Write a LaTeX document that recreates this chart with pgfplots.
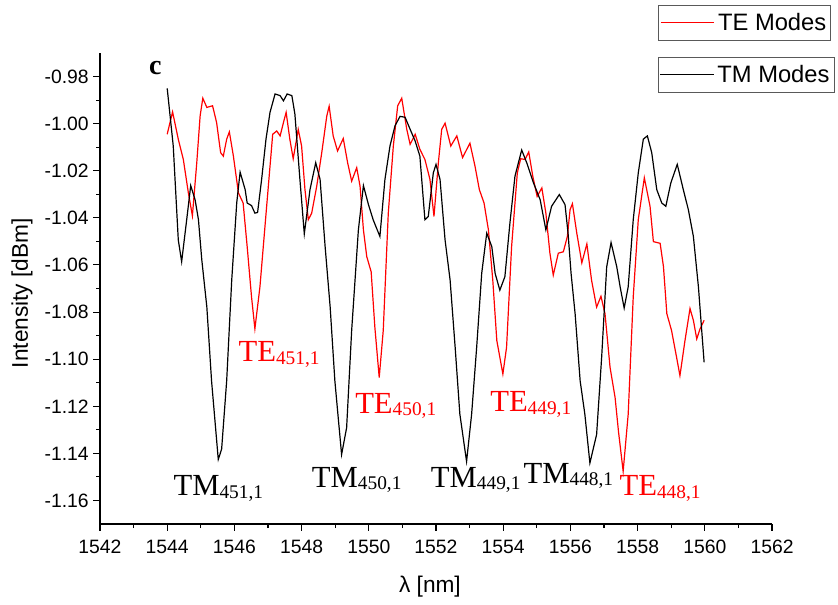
\documentclass[border=0pt]{standalone}
\usepackage{pgfplots}
\usepackage{pgfplotstable}
\pgfplotsset{compat=1.18}
\usepackage{fontspec}
\setmainfont{Liberation Sans}
\newfontfamily\serifont{Liberation Serif}

\pgfplotstableread{
x y
1544.00 -1.0045
1544.16 -0.9950
1544.33 -1.0066
1544.48 -1.0152
1544.63 -1.0294
1544.75 -1.0391
1544.88 -1.0166
1544.98 -0.9967
1545.06 -0.9892
1545.18 -0.9931
1545.35 -0.9924
1545.47 -0.9995
1545.59 -1.0123
1545.67 -1.0138
1545.77 -1.0066
1545.85 -1.0035
1545.97 -1.0138
1546.12 -1.0294
1546.26 -1.0337
1546.38 -1.0522
1546.51 -1.0736
1546.61 -1.0871
1546.76 -1.0693
1546.96 -1.0351
1547.14 -1.0045
1547.26 -1.0031
1547.36 -1.0052
1547.46 -0.9995
1547.54 -0.9952
1547.65 -1.0066
1547.75 -1.0149
1547.90 -1.0024
1548.00 -1.0095
1548.10 -1.0280
1548.20 -1.0408
1548.30 -1.0380
1548.45 -1.0266
1548.60 -1.0123
1548.75 -0.9967
1548.82 -0.9926
1548.94 -1.0052
1549.07 -1.0116
1549.24 -1.0063
1549.37 -1.0166
1549.49 -1.0244
1549.64 -1.0187
1549.74 -1.0266
1549.84 -1.0451
1549.94 -1.0565
1550.07 -1.0629
1550.18 -1.0864
1550.31 -1.1078
1550.43 -1.0878
1550.58 -1.0380
1550.73 -1.0095
1550.86 -0.9924
1550.98 -0.9892
1551.13 -1.0024
1551.23 -1.0088
1551.38 -1.0045
1551.52 -1.0109
1551.67 -1.0152
1551.82 -1.0237
1551.94 -1.0394
1552.07 -1.0166
1552.17 -1.0024
1552.27 -0.9998
1552.44 -1.0095
1552.62 -1.0052
1552.79 -1.0144
1553.01 -1.0083
1553.16 -1.0180
1553.29 -1.0280
1553.43 -1.0337
1553.56 -1.0451
1553.69 -1.0665
1553.81 -1.0921
1553.99 -1.1063
1554.10 -1.0950
1554.25 -1.0522
1554.42 -1.0209
1554.52 -1.0149
1554.65 -1.0152
1554.76 -1.0120
1554.88 -1.0223
1555.01 -1.0309
1555.15 -1.0273
1555.27 -1.0380
1555.39 -1.0550
1555.49 -1.0643
1555.64 -1.0550
1555.79 -1.0544
1555.91 -1.0479
1555.99 -1.0365
1556.06 -1.0340
1556.19 -1.0465
1556.34 -1.0591
1556.49 -1.0511
1556.63 -1.0665
1556.78 -1.0779
1556.91 -1.0733
1557.03 -1.0807
1557.18 -1.1035
1557.33 -1.1163
1557.43 -1.1306
1557.57 -1.1476
1557.72 -1.1234
1557.87 -1.0736
1558.02 -1.0408
1558.20 -1.0230
1558.37 -1.0351
1558.47 -1.0501
1558.67 -1.0508
1558.77 -1.0608
1558.87 -1.0807
1559.01 -1.0878
1559.16 -1.0992
1559.26 -1.1070
1559.41 -1.0921
1559.56 -1.0785
1559.66 -1.0835
1559.76 -1.0914
1559.86 -1.0871
1559.98 -1.0835
}\tedata

\pgfplotstableread{
x y
1544.00 -0.9850
1544.18 -1.0095
1544.33 -1.0494
1544.43 -1.0586
1544.58 -1.0408
1544.70 -1.0263
1544.83 -1.0323
1544.93 -1.0408
1545.03 -1.0579
1545.18 -1.0779
1545.32 -1.1092
1545.52 -1.1426
1545.62 -1.1382
1545.77 -1.1092
1545.92 -1.0665
1546.07 -1.0335
1546.17 -1.0206
1546.32 -1.0280
1546.38 -1.0337
1546.51 -1.0348
1546.61 -1.0380
1546.69 -1.0377
1546.81 -1.0237
1546.94 -1.0066
1547.06 -0.9952
1547.21 -0.9874
1547.36 -0.9881
1547.46 -0.9903
1547.57 -0.9874
1547.71 -0.9881
1547.80 -0.9959
1547.95 -1.0237
1548.08 -1.0468
1548.25 -1.0280
1548.42 -1.0166
1548.55 -1.0237
1548.70 -1.0522
1548.85 -1.0779
1548.99 -1.1092
1549.19 -1.1405
1549.34 -1.1291
1549.49 -1.0878
1549.69 -1.0451
1549.84 -1.0263
1549.99 -1.0344
1550.13 -1.0408
1550.33 -1.0479
1550.48 -1.0237
1550.63 -1.0095
1550.78 -1.0009
1550.93 -0.9969
1551.08 -0.9973
1551.23 -1.0024
1551.38 -1.0074
1551.52 -1.0138
1551.67 -1.0408
1551.77 -1.0394
1551.92 -1.0209
1552.00 -1.0173
1552.12 -1.0237
1552.27 -1.0494
1552.42 -1.0665
1552.57 -1.0950
1552.71 -1.1234
1552.91 -1.1434
1553.06 -1.1234
1553.21 -1.0950
1553.36 -1.0636
1553.51 -1.0465
1553.66 -1.0522
1553.76 -1.0636
1553.90 -1.0707
1554.05 -1.0650
1554.20 -1.0422
1554.35 -1.0223
1554.55 -1.0112
1554.70 -1.0166
1554.90 -1.0251
1555.10 -1.0323
1555.27 -1.0451
1555.44 -1.0351
1555.67 -1.0301
1555.84 -1.0344
1555.93 -1.0465
1556.02 -1.0636
1556.14 -1.0807
1556.29 -1.1092
1556.43 -1.1234
1556.58 -1.1441
1556.78 -1.1320
1556.93 -1.0992
1557.08 -1.0608
1557.21 -1.0505
1557.38 -1.0608
1557.48 -1.0693
1557.60 -1.0783
1557.72 -1.0693
1557.87 -1.0408
1558.02 -1.0209
1558.17 -1.0066
1558.29 -1.0052
1558.42 -1.0123
1558.57 -1.0280
1558.72 -1.0337
1558.84 -1.0351
1558.99 -1.0251
1559.18 -1.0173
1559.36 -1.0280
1559.51 -1.0365
1559.66 -1.0479
1559.81 -1.0693
1559.98 -1.1014
}\tmdata

\newcommand{\lab}[2]{{\serifont\fontsize{23}{23}\selectfont #1}\raisebox{-2pt}{\serifont\fontsize{14.5}{14.5}\selectfont #2}}

\pgfplotsset{
  common/.style={
    scale only axis, width=504pt, height=353.25pt,
    xmin=1542, xmax=1562, ymin=-1.17, ymax=-0.97,
    legend image code/.code={\draw[##1] (0pt,0pt) -- (40pt,0pt);},
  },
  legbox/.style={
    anchor=north west, draw=black!65, line width=0.7pt,
    font=\fontsize{17.8}{17.8}\selectfont,
    inner xsep=1pt, inner ysep=4.5pt,
    nodes={inner xsep=2.5pt, inner ysep=1.5pt},
  },
}

\begin{document}
\begin{tikzpicture}
\begin{axis}[common, name=ax,
  axis x line*=bottom, axis y line*=left,
  axis line style={line width=0.9pt, -},
  tick align=outside,
  major tick length=5pt, minor tick length=3pt,
  tick style={black, line width=0.8pt},
  xtick={1542,1544,1546,1548,1550,1552,1554,1556,1558,1560,1562},
  minor x tick num=1,
  ytick={-1.16,-1.14,-1.12,-1.10,-1.08,-1.06,-1.04,-1.02,-1.00,-0.98},
  minor y tick num=1,
  /pgf/number format/assume math mode=true,
  /pgf/number format/1000 sep={},
  ticklabel style={font=\fontsize{14.5}{14.5}\selectfont},
  xticklabel style={yshift=-3.5pt},
  yticklabel style={/pgf/number format/fixed, /pgf/number format/fixed zerofill, /pgf/number format/precision=2},
  xlabel={λ [nm]}, ylabel={Intensity [dBm]},
  label style={font=\fontsize{17}{17}\selectfont},
  xlabel style={at={(axis description cs:0.491,-0.133)}, anchor=center},
  ylabel style={at={(axis description cs:-0.116,0.49)}, anchor=center},
  legend style={legbox, at={(axis description cs:0.831,1.1025)}},
]
\addplot[red, line width=0.9pt] table[x=x, y=y] {\tedata};
\addlegendentry{TE Modes}

\node[anchor=base west] at (axis cs:1543.32,-0.9793) {\serifont\bfseries\fontsize{21}{21}\selectfont c};
\node[anchor=base west, text=red, inner sep=0pt] at (axis cs:1546.116,-1.1011) {\lab{TE}{451,1}};
\node[anchor=base west, text=red, inner sep=0pt] at (axis cs:1549.589,-1.1230) {\lab{TE}{450,1}};
\node[anchor=base west, text=red, inner sep=0pt] at (axis cs:1553.607,-1.1223) {\lab{TE}{449,1}};
\node[anchor=base west, text=red, inner sep=0pt] at (axis cs:1557.455,-1.1580) {\lab{TE}{448,1}};
\node[anchor=base west, inner sep=0pt] at (axis cs:1544.18,-1.1580) {\lab{TM}{451,1}};
\node[anchor=base west, inner sep=0pt] at (axis cs:1548.30,-1.1544) {\lab{TM}{450,1}};
\node[anchor=base west, inner sep=0pt] at (axis cs:1551.842,-1.1544) {\lab{TM}{449,1}};
\node[anchor=base west, inner sep=0pt] at (axis cs:1554.60,-1.1527) {\lab{TM}{448,1}};
\end{axis}
\begin{axis}[common, hide axis,
  legend style={legbox, at={(axis description cs:0.830,0.992)}},
]
\addplot[black, line width=0.9pt] table[x=x, y=y] {\tmdata};
\addlegendentry{TM Modes}
\end{axis}
\pgfresetboundingbox
\path[use as bounding box] ([shift={(-75pt,-60pt)}]ax.south west) rectangle ([shift={(553.5pt,393pt)}]ax.south west);
\end{tikzpicture}
\end{document}
